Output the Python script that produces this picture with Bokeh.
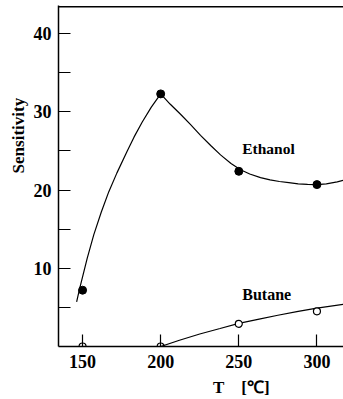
from math import pi
from bokeh.plotting import figure
from bokeh.models import FixedTicker, Range1d, Span, Label
from bokeh.embed import file_html
from bokeh.resources import INLINE

# ---- data ----
ethanol_T = [150, 200, 250, 300]
ethanol_S = [7.2, 32.3, 22.4, 20.7]
butane_T = [150, 200, 250, 300]
butane_S = [0.0, 0.0, 2.9, 4.5]

ethanol_curve_T = [146.2, 148, 150, 153, 157.2, 162, 166.8, 172, 178.6, 183, 188.2, 194, 200,
                   206, 212.7, 219, 225.5, 232, 238.3, 245, 251.1, 257, 263.9, 270, 276,
                   282, 288, 294, 300, 306, 313, 317]
ethanol_curve_S = [5.7, 7.3, 8.9, 11.3, 14.3, 17.2, 19.8, 22.2, 25.0, 26.8, 28.7, 30.6, 32.3,
                   31.0, 29.7, 28.4, 27.0, 25.7, 24.5, 23.4, 22.6, 22.05, 21.6, 21.3, 21.1,
                   20.95, 20.8, 20.72, 20.7, 20.8, 21.05, 21.25]
butane_curve_T = [200, 212, 225, 238, 250, 263, 275, 288, 300, 317]
butane_curve_S = [0.0, 0.8, 1.6, 2.3, 2.95, 3.5, 4.0, 4.5, 4.9, 5.4]

x_ticks = [150, 200, 250, 300]
y_ticks = [10, 20, 30, 40]
y_minor = [5, 15, 25, 35]

FONT = "Liberation Serif"
NB = "\u00a0"

p = figure(width=343, height=399, output_backend="svg", toolbar_location=None,
           x_range=Range1d(134.6, 317), y_range=Range1d(0, 43.6),
           min_border_left=58, min_border_right=0, min_border_top=5, min_border_bottom=51)
p.outline_line_color = None
p.grid.visible = False
p.background_fill_color = "white"
p.border_fill_color = "white"

# axes
for ax in (p.xaxis[0], p.yaxis[0]):
    ax.axis_line_color = "black"
    ax.axis_line_width = 1.5
    ax.major_tick_in = 12
    ax.major_tick_out = 0
    ax.major_tick_line_color = "black"
    ax.major_tick_line_width = 1.2
    ax.major_label_text_font = FONT
    ax.major_label_text_font_style = "bold"
    ax.major_label_text_font_size = "18px"
    ax.major_label_text_color = "black"
    ax.axis_label_text_font = FONT
    ax.axis_label_text_font_style = "bold"
    ax.axis_label_text_font_size = "17px"
    ax.axis_label_text_color = "black"

p.xaxis.ticker = FixedTicker(ticks=x_ticks)
p.xaxis.minor_tick_line_color = None
p.xaxis.major_label_standoff = 8
p.xaxis.axis_label = NB * 19 + "T" + NB * 4 + "[℃]"
p.xaxis.axis_label_standoff = 7

p.yaxis.ticker = FixedTicker(ticks=y_ticks, minor_ticks=y_minor)
p.yaxis.minor_tick_in = 12
p.yaxis.minor_tick_out = 0
p.yaxis.minor_tick_line_color = "black"
p.yaxis.minor_tick_line_width = 1.2
p.yaxis.major_label_standoff = 7
p.yaxis.axis_label = NB * 19 + "Sensitivity"
p.yaxis.axis_label_standoff = 3

# top frame line
p.add_layout(Span(location=43.45, dimension="width", line_color="black", line_width=1.5))

# curves
p.line(ethanol_curve_T, ethanol_curve_S, line_color="black", line_width=1.2)
p.line(butane_curve_T, butane_curve_S, line_color="black", line_width=1.2)

# points
p.scatter(ethanol_T, ethanol_S, marker="circle", size=8, fill_color="black", line_color="black")
bt_pos = [t for t, s in zip(butane_T, butane_S) if s > 0]
bs_pos = [s for s in butane_S if s > 0]
bt_zero = [t for t, s in zip(butane_T, butane_S) if s <= 0]
bs_zero = [s for s in butane_S if s <= 0]
p.scatter(bt_pos, bs_pos, marker="circle", size=7, fill_color="white",
          line_color="black", line_width=1.2)
# points lying on the axis: only their upper half shows
p.arc(bt_zero, bs_zero, radius=3.5, radius_units="screen", start_angle=0, end_angle=pi,
      line_color="black", line_width=1.2)

# texts
def lab(x, y, text, size="16px"):
    p.add_layout(Label(x=x, y=y, text=text, text_font=FONT, text_font_style="bold",
                       text_font_size=size, text_align="left", text_baseline="alphabetic",
                       text_color="black"))

lab(252.2, 25.3, "Ethanol", size="15.5px")
lab(252.2, 6.6, "Butane")

open("out.html", "w").write(file_html(p, INLINE))
